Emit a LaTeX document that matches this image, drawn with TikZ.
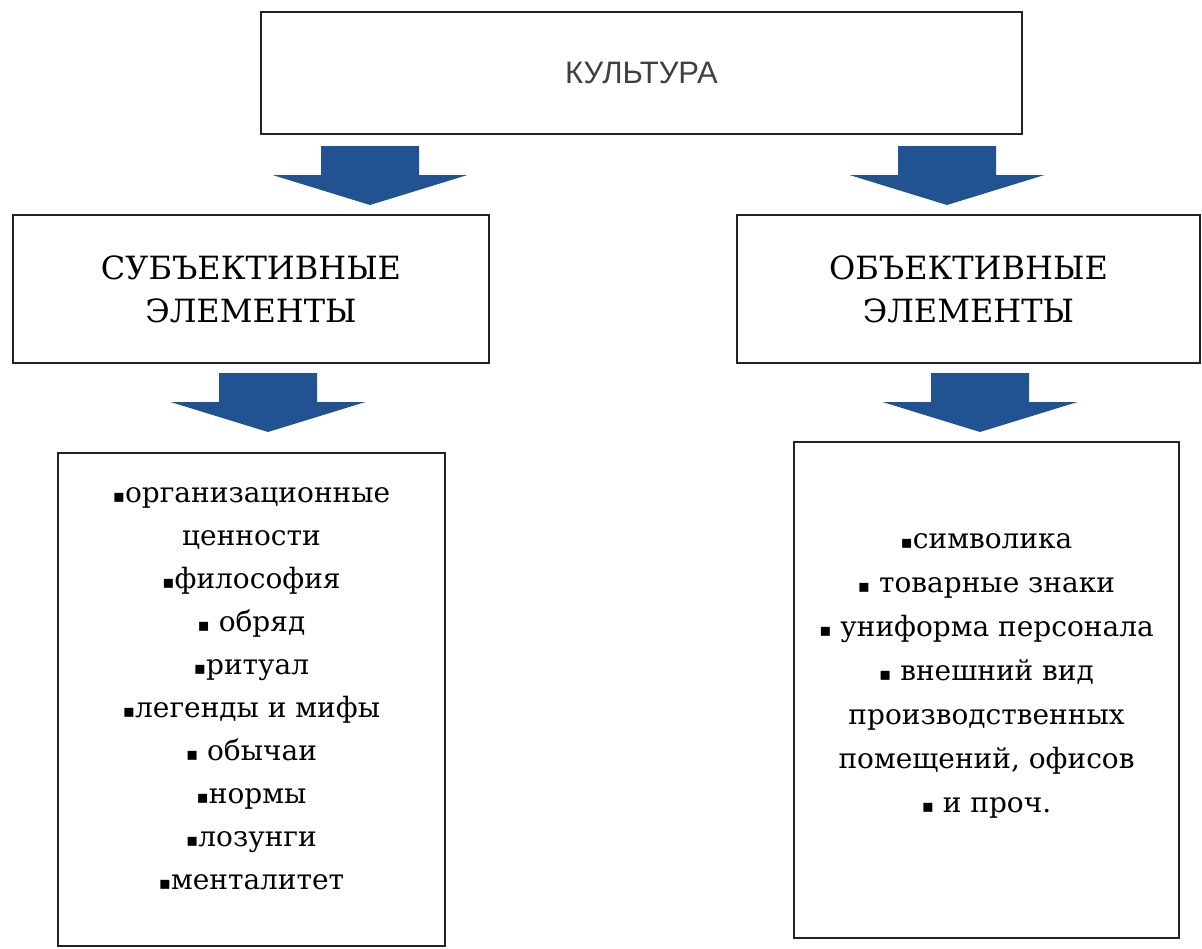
\documentclass[tikz,border=0pt]{standalone}
\usepackage{fontspec}
\setmainfont{DejaVu Serif}
\newfontfamily\titlefont{Liberation Sans}
\newfontfamily\symfont{DejaVu Sans}
\newcommand{\sq}{{\symfont\fontsize{18}{18}\selectfont ▪}}
\definecolor{arrowblue}{RGB}{33,82,145}
\definecolor{boxline}{RGB}{35,35,35}

\begin{document}
\begin{tikzpicture}[x=1pt, y=-1pt,
  box/.style={draw=boxline, line width=2.6pt, fill=white, inner sep=0pt},
  headtext/.style={font=\fontsize{32}{43}\selectfont, align=center},
  itemtext/.style={font=\fontsize{28}{43}\selectfont, align=center},
  blockarrow/.style={fill=arrowblue}]
\useasboundingbox (0,0) rectangle (1202,948);

% top box
\node[box, minimum width=761pt, minimum height=122pt,
      font=\titlefont\fontsize{31}{34}\selectfont, text=black!75]
  (culture) at (641.5,73) {КУЛЬТУРА};

% two kinds of elements
\node[box, headtext, minimum width=476pt, minimum height=148pt]
  (subj) at (251,289) {СУБЪЕКТИВНЫЕ\\ЭЛЕМЕНТЫ};
\node[box, headtext, minimum width=463pt, minimum height=148pt]
  (obj) at (968.5,289) {ОБЪЕКТИВНЫЕ\\ЭЛЕМЕНТЫ};

% lists
\node[box, minimum width=387pt, minimum height=493pt] (subjlist) at (251.5,699.5) {};
\node[box, minimum width=385pt, minimum height=496pt] (objlist) at (986.5,690) {};

\node[itemtext] (subjitems) at ([yshift=11pt]subjlist.center)
  {\sq организационные\\ценности\\\sq философия\\\sq\ обряд\\\sq ритуал\\
   \sq легенды и мифы\\\sq\ обычаи\\\sq нормы\\\sq лозунги\\\sq менталитет};
\node[itemtext, font=\fontsize{28}{44}\selectfont] (objitems) at ([yshift=14pt]objlist.center)
  {\sq символика\\\sq\ товарные знаки\\\sq\ униформа персонала\\\sq\ внешний вид\\
   производственных\\помещений, офисов\\\sq\ и проч.};

% block arrows
\foreach \cx/\ty in {370/146, 947/146, 268/373, 980/373}
  \fill[blockarrow] (\cx-49,\ty) -- ++(98,0) -- ++(0,29) -- ++(48.5,0)
    -- (\cx,\ty+59) -- (\cx-97.5,\ty+29) -- ++(48.5,0) -- cycle;
\end{tikzpicture}
\end{document}
